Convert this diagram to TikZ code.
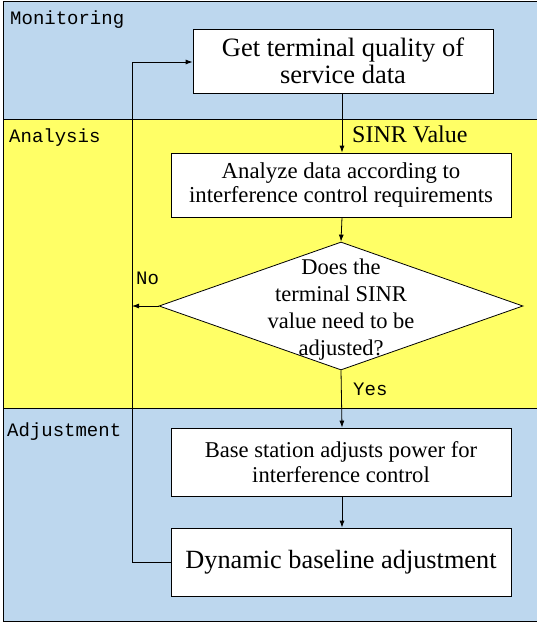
\documentclass[tikz,border=0pt]{standalone}
\usepackage{fontspec}
\setmainfont{Liberation Serif}
\newfontfamily\lanefont{Liberation Mono}
\usetikzlibrary{shapes.geometric,arrows.meta}
\definecolor{laneblue}{RGB}{189,215,238}
\definecolor{laneyellow}{RGB}{255,255,102}
\tikzset{
  procbox/.style={draw=black, fill=white, line width=0.8pt, align=center, inner sep=0pt},
  lanelabel/.style={anchor=west, font=\lanefont\fontsize{19}{22}\selectfont, inner sep=0pt},
  conn/.style={line width=0.8pt, -{Latex[length=7pt,width=5pt]}},
  plain/.style={line width=0.8pt},
  edgelabel/.style={font=\fontsize{24}{28}\selectfont, inner sep=0pt, anchor=west}
}
\begin{document}
\begin{tikzpicture}[x=1pt,y=-1pt]
\useasboundingbox (0,0) rectangle (537,624);
% lanes
\fill[laneblue] (3,1) rectangle (537,119);
\fill[laneyellow] (3,119) rectangle (537,408);
\fill[laneblue] (3,408) rectangle (537,621);
\draw[line width=1pt] (3,1) rectangle (537,621);
\draw[line width=1pt] (3,119) -- (537,119);
\draw[line width=1pt] (3,408) -- (537,408);
\node[lanelabel] (lmon) at (10,20) {Monitoring};
\node[lanelabel] (lana) at (9,138) {Analysis};
\node[lanelabel] (ladj) at (7,432) {Adjustment};
% boxes
\node[procbox, minimum width=300pt, minimum height=64pt, font=\fontsize{26.5}{27}\selectfont] (b1) at (343,61) {Get terminal quality of\\service data};
\node[procbox, minimum width=340pt, minimum height=64pt, font=\fontsize{22.8}{23.5}\selectfont] (b2) at (341,185) {Analyze data according to\\interference control requirements};
\node[diamond, draw=black, fill=white, line width=0.8pt, minimum width=364pt, minimum height=128pt, inner sep=0pt, aspect=2.84] (d) at (341,306) {};
\node[font=\fontsize{22.5}{27}\selectfont, align=center] (dt) at (341,310) {Does the\\terminal SINR\\value need to be\\adjusted?};
\node[procbox, minimum width=340pt, minimum height=68pt, font=\fontsize{22.6}{25}\selectfont] (b3) at (341,462) {Base station adjusts power for\\interference control};
\node[procbox, minimum width=340pt, minimum height=68pt, font=\fontsize{26.3}{28}\selectfont] (b4) at (341,562) {Dynamic baseline adjustment};
% connectors
\coordinate (cl) at (132,306);
\coordinate (ct) at (132,62);
\coordinate (cb) at (132,562);
\draw[conn] (b1.south -| 342,0) -- (b2.north -| 342,0);
\draw[conn] (b2.south -| 342,0) -- (d.north);
\draw[conn] (d.south) -- (b3.north -| 342,0);
\draw[conn] (b3.south -| 342,0) -- (b4.north -| 342,0);
\draw[conn] (d.west) -- (cl);
\draw[plain] (b4.west) -- (cb) -- (ct);
\draw[conn] (ct) -- (b1.west |- ct);
% labels
\node[edgelabel] (sinr) at (352,134) {SINR Value};
\node[font=\lanefont\fontsize{19}{22}\selectfont, inner sep=0pt, anchor=west] (no) at (136,278) {No};
\node[font=\lanefont\fontsize{19}{22}\selectfont, inner sep=0pt, anchor=west] (yes) at (353,389) {Yes};
\end{tikzpicture}
\end{document}
